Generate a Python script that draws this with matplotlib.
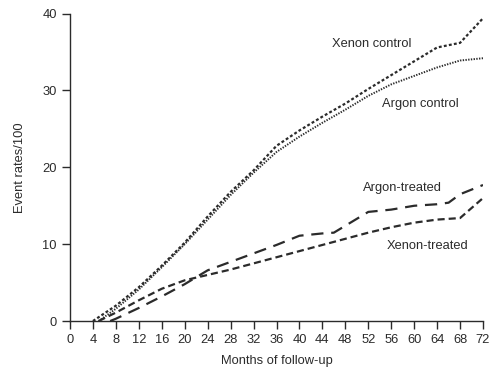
import matplotlib
matplotlib.use("Agg")
import matplotlib.pyplot as plt

plt.rcParams['font.family'] = ['Liberation Sans', 'DejaVu Sans']

months_ctrl = [4, 8, 12, 16, 20, 24, 28, 32, 36, 40, 44, 48, 52, 56, 60, 64, 68, 72]
xenon_control = [0, 2.0, 4.4, 7.2, 10.2, 13.6, 16.8, 19.6, 22.8, 24.8, 26.6, 28.3, 30.2, 32.0, 33.8, 35.6, 36.2, 39.4]
argon_months = [5, 8, 12, 16, 20, 24, 28, 32, 36, 40, 44, 48, 52, 56, 60, 64, 68, 72]
argon_control = [0, 1.6, 4.1, 7.0, 10.0, 13.2, 16.4, 19.3, 22.0, 24.0, 25.8, 27.5, 29.3, 30.8, 31.9, 33.0, 33.9, 34.2]

argon_treated_months = [7, 8, 12, 16, 20, 24, 28, 32, 36, 40, 44, 46, 48, 52, 56, 60, 64, 66, 68, 72]
argon_treated = [0, 0.3, 1.7, 3.2, 4.8, 6.6, 7.7, 8.8, 9.9, 11.1, 11.4, 11.5, 12.4, 14.2, 14.5, 15.0, 15.2, 15.4, 16.5, 17.7]
xenon_treated_months = [5, 8, 12, 16, 20, 24, 28, 32, 36, 40, 44, 48, 52, 56, 60, 64, 68, 72]
xenon_treated = [0, 1.1, 2.7, 4.2, 5.3, 6.0, 6.7, 7.5, 8.3, 9.1, 9.9, 10.7, 11.5, 12.2, 12.8, 13.2, 13.4, 16.0]

x_ticks = list(range(0, 73, 4))
y_ticks = [0, 10, 20, 30, 40]

col = '#2b2b2b'
fig = plt.figure(figsize=(5.0, 3.69), dpi=100)
ax = fig.add_axes([0.14, 0.13, 0.826, 0.833])

ax.plot(months_ctrl, xenon_control, color=col, lw=1.6, dashes=(1.3, 1.0))
ax.plot(argon_months, argon_control, color=col, lw=1.4, dashes=(0.7, 0.7))
ax.plot(argon_treated_months, argon_treated, color=col, lw=1.6, dashes=(5.5, 3.5))
ax.plot(xenon_treated_months, xenon_treated, color=col, lw=1.6, dashes=(3.2, 1.8))

fs = 9.3
ax.text(52.6, 36.0, 'Xenon control', fontsize=fs, ha='center', va='center', color=col)
ax.text(61.0, 28.3, 'Argon control', fontsize=fs, ha='center', va='center', color=col)
ax.text(57.9, 17.3, 'Argon-treated', fontsize=fs, ha='center', va='center', color=col)
ax.text(62.4, 9.75, 'Xenon-treated', fontsize=fs, ha='center', va='center', color=col)

ax.set_xlim(0, 72)
ax.set_ylim(0, 40)
ax.set_xticks(x_ticks)
ax.set_yticks(y_ticks)
ax.tick_params(direction='out', length=5.5, width=1, colors=col, labelsize=fs, pad=4)
for s in ['top', 'right']:
    ax.spines[s].set_visible(False)
for s in ['left', 'bottom']:
    ax.spines[s].set_color(col)
    ax.spines[s].set_linewidth(1)
ax.set_xlabel('Months of follow-up', fontsize=fs, color=col, labelpad=6)
ax.set_ylabel('Event rates/100', fontsize=fs, color=col, labelpad=12)

fig.savefig('out.png', dpi=100)
